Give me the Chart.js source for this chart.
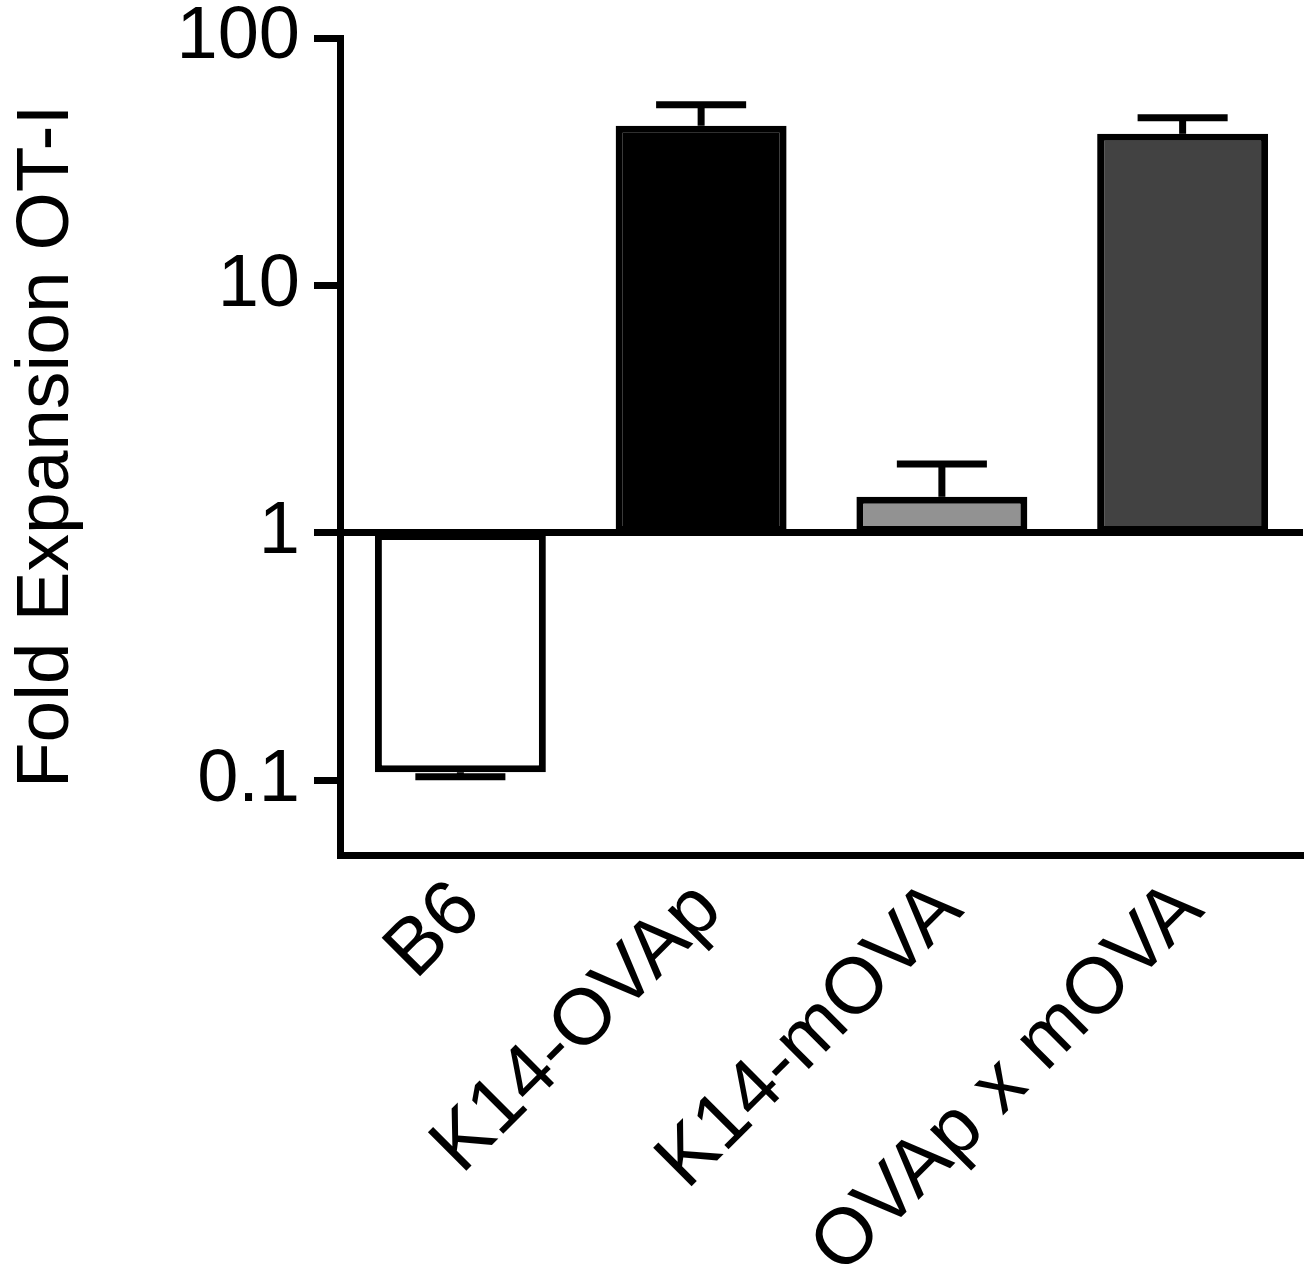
<!DOCTYPE html>
<html>
<head>
<meta charset="utf-8">
<script src="https://cdn.jsdelivr.net/npm/chart.js@4"></script>
<style>
  html, body { margin: 0; padding: 0; background: #fff; }
  #chart { display: block; }
</style>
</head>
<body>
<canvas id="chart" width="1309" height="1281"></canvas>
<script>
// --- dados ---
const categories = ['B6', 'K14-OVAp', 'K14-mOVA', 'OVAp x mOVA'];
const foldMeans = [0.108, 44.2, 1.40, 41.0];
const errorEnds = [0.1035, 53.7, 1.90, 47.6];
const barColors = ['#ffffff', '#000000', '#929292', '#424242'];
const yTicks = [0.1, 1, 10, 100];
const baseValue = 1;

const FONT = "'Liberation Sans', Arial, Helvetica, sans-serif";

// barras flutuantes a partir de 1
const floatingData = foldMeans.map(v => [baseValue, v]);

// Plugin de barras de erro
const errorBars = {
    id: 'errorBars',
    afterDatasetsDraw(chart) {
        const { ctx, scales: { x, y } } = chart;
        const capHalf = x.width / categories.length * 0.187;
        ctx.save();
        ctx.strokeStyle = '#000';
        ctx.lineWidth = 7;
        ctx.lineCap = 'butt';
        foldMeans.forEach((m, i) => {
            const cx = x.getPixelForValue(i);
            const y0 = y.getPixelForValue(m);
            const y1 = y.getPixelForValue(errorEnds[i]);
            ctx.beginPath();
            ctx.moveTo(cx, y0);
            ctx.lineTo(cx, y1);
            ctx.stroke();
            ctx.beginPath();
            ctx.moveTo(cx - capHalf, y1);
            ctx.lineTo(cx + capHalf, y1);
            ctx.stroke();
        });
        ctx.restore();
    }
};

new Chart(document.getElementById('chart').getContext('2d'), {
    type: 'bar',
    data: {
        labels: categories,
        datasets: [{
            data: floatingData,
            backgroundColor: barColors,
            borderColor: '#000',
            borderWidth: 7,
            borderSkipped: false,
            barPercentage: 0.71,
            categoryPercentage: 1
        }]
    },
    options: {
        responsive: false,
        animation: false,
        events: [],
        layout: { padding: { left: 0, right: 6, top: 38, bottom: 0 } },
        plugins: { legend: { display: false }, tooltip: { enabled: false } },
        scales: {
            x: {
                offset: true,
                grid: { display: false },
                border: { color: '#000', width: 7 },
                afterFit: (s) => { s.height = 426; },
                ticks: {
                    color: '#000',
                    font: { family: FONT, size: 79, lineHeight: 1 },
                    minRotation: 45,
                    maxRotation: 45,
                    autoSkip: false,
                    padding: 6,
                    labelOffset: 8
                }
            },
            y: {
                type: 'logarithmic',
                min: 0.05,
                max: 100,
                afterBuildTicks: (scale) => { scale.ticks = yTicks.map(v => ({ value: v })); },
                afterFit: (s) => { s.width = 340; s.paddingTop = 0; },
                grid: {
                    color: (c) => (c.tick && c.tick.value === baseValue ? '#000' : 'rgba(0,0,0,0)'),
                    tickColor: '#000',
                    lineWidth: 7,
                    tickLength: 26,
                    drawTicks: true
                },
                border: { color: '#000', width: 7 },
                ticks: {
                    color: '#000',
                    font: { family: FONT, size: 74, lineHeight: 1 },
                    padding: 14,
                    callback: (v) => String(v)
                },
                title: {
                    display: true,
                    text: 'Fold Expansion OT-I',
                    color: '#000',
                    font: { family: FONT, size: 75, lineHeight: 1.2 },
                    padding: { top: 2, bottom: 0 }
                }
            }
        }
    },
    plugins: [errorBars]
});
</script>
</body>
</html>
